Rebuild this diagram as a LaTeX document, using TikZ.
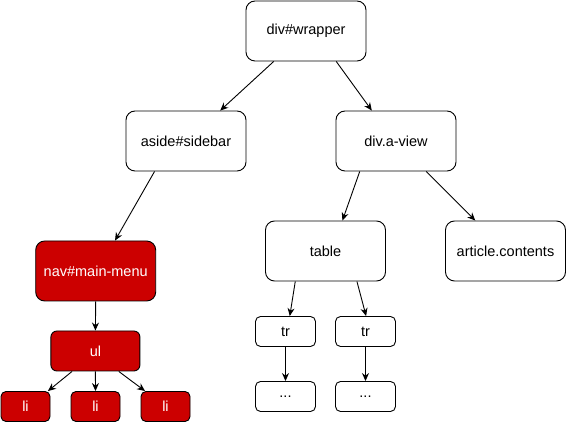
\documentclass[tikz,border=0pt]{standalone}
\usepackage{fontspec}
\setmainfont{Liberation Sans}
\usetikzlibrary{arrows.meta,calc}
\definecolor{navred}{HTML}{CC0000}
\tikzset{
  box/.style={draw=black, line width=0.9pt, fill=white, align=center,
    font=\fontsize{14.5}{17}\selectfont, inner sep=0pt},
  bigbox/.style={box, minimum width=120pt, minimum height=60pt, rounded corners=9pt},
  smallbox/.style={box, minimum width=60pt, minimum height=30pt, rounded corners=5pt},
  redbox/.style={fill=navred, text=white},
  edge/.style={draw=black, line width=0.9pt, -{Stealth[length=8pt,width=7pt]}}
}
\begin{document}
\begin{tikzpicture}[x=1pt,y=-1pt]
  \useasboundingbox (0,0) rectangle (568,427);
  % top level
  \node[bigbox] (wrap) at (306,31) {div\#wrapper};
  \node[bigbox] (side) at (186,141) {aside\#sidebar};
  \node[bigbox] (view) at (396,141) {div.a-view};
  % sidebar branch
  \node[bigbox, redbox] (nav) at (95.7,271) {nav\#main-menu};
  \node[box, redbox, minimum width=89pt, minimum height=40pt, rounded corners=6pt] (ul) at (95.4,351) {ul};
  \node[box, redbox, minimum width=49pt, minimum height=30pt, rounded corners=5pt] (li1) at (25.5,406.5) {li};
  \node[box, redbox, minimum width=49pt, minimum height=30pt, rounded corners=5pt] (li2) at (95.5,406.5) {li};
  \node[box, redbox, minimum width=49pt, minimum height=30pt, rounded corners=5pt] (li3) at (165.5,406.5) {li};
  % view branch
  \node[bigbox] (tab) at (325.5,251) {table};
  \node[bigbox] (art) at (505.5,251) {article.contents};
  \node[smallbox] (tr1) at (285.5,331.5) {tr};
  \node[smallbox] (tr2) at (365.5,331.5) {tr};
  \node[smallbox] (dot1) at (285.5,396.5) {...};
  \node[smallbox] (dot2) at (365.5,396.5) {...};
  % connectors
  \draw[edge] ($(wrap.south west)!0.233!(wrap.south east)$) -- ($(side.north west)!0.783!(side.north east)$);
  \draw[edge] ($(wrap.south west)!0.75!(wrap.south east)$) -- ($(view.north west)!0.3!(view.north east)$);
  \draw[edge] ($(side.south west)!0.24!(side.south east)$) -- ($(nav.north west)!0.66!(nav.north east)$);
  \draw[edge] (nav.south) -- (ul.north);
  \draw[edge] ($(ul.south west)!0.24!(ul.south east)$) -- ($(li1.north west)!0.95!(li1.north east)$);
  \draw[edge] (ul.south) -- (li2.north);
  \draw[edge] ($(ul.south west)!0.76!(ul.south east)$) -- ($(li3.north west)!0.09!(li3.north east)$);
  \draw[edge] ($(view.south west)!0.2!(view.south east)$) -- ($(tab.north west)!0.64!(tab.north east)$);
  \draw[edge] ($(view.south west)!0.75!(view.south east)$) -- ($(art.north west)!0.25!(art.north east)$);
  \draw[edge] ($(tab.south west)!0.25!(tab.south east)$) -- ($(tr1.north west)!0.57!(tr1.north east)$);
  \draw[edge] ($(tab.south west)!0.76!(tab.south east)$) -- ($(tr2.north west)!0.51!(tr2.north east)$);
  \draw[edge] (tr1.south) -- (dot1.north);
  \draw[edge] (tr2.south) -- (dot2.north);
\end{tikzpicture}
\end{document}
